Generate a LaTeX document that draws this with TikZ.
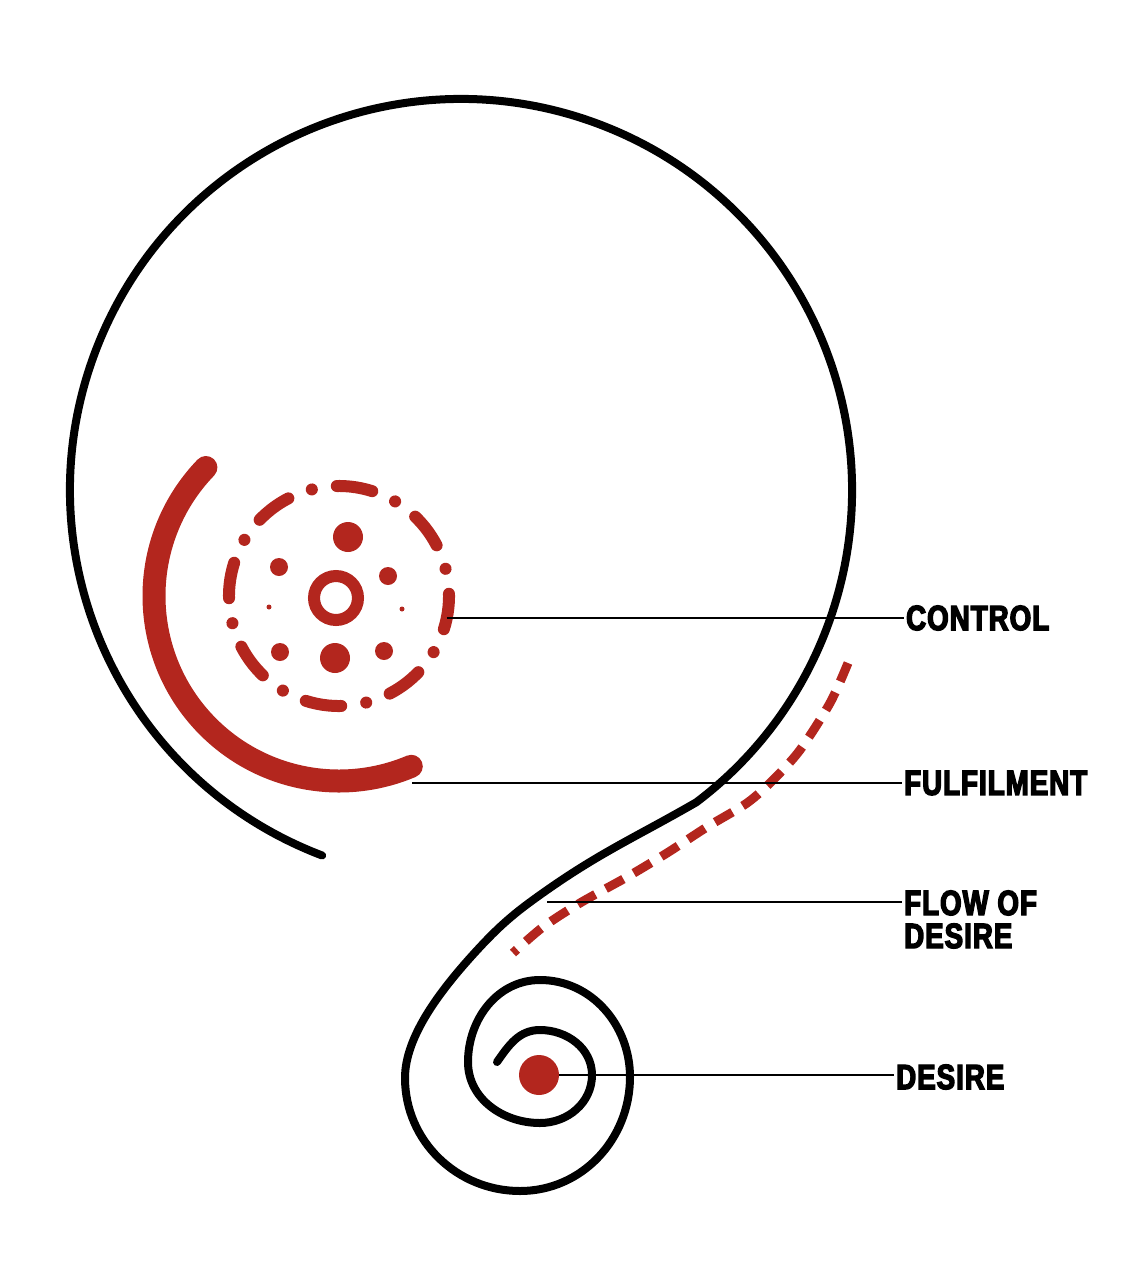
\documentclass[tikz,border=0pt]{standalone}
\usepackage{fontspec}
\newfontfamily\labelfont{Liberation Sans}[FakeStretch=0.79, FakeBold=4, LetterSpace=3]
\usetikzlibrary{positioning}
\definecolor{desirered}{HTML}{B3261E}

\begin{document}
\begin{tikzpicture}[x=1pt, y=1pt,
  lbl/.style={anchor=west, inner sep=2pt, align=left, font=\labelfont\bfseries\fontsize{35}{33}\selectfont},
  leader/.style={line width=1.8pt, color=black},
  curl/.style={line width=8pt, line cap=round, line join=round},
  fulfil arc/.style={draw=desirered, line width=23pt, line cap=round},
  ctrl ring/.style={draw=desirered, line width=12pt, line cap=round, dash pattern=on 36pt off 25.2pt on 0.1pt off 25.1pt},
  flowdash/.style={draw=desirered, line width=9pt, dash pattern=on 20pt off 12pt},
  seed/.style={circle, fill=desirered, minimum size=40pt, inner sep=0pt}]
\useasboundingbox (0,0) rectangle (1123,-1280);
\coordinate (hub) at (339,-596);
\draw[curl] (461,-490) ++(249.2:391) arc[start angle=249.2, end angle=-53, radius=391]
  to[out=210,in=35] (547,-890) to[out=215,in=47] (480,-947) to[out=227,in=90,out looseness=1,in looseness=0.7] (405,-1078)
  to[out=270,in=180] (520,-1191) to[out=0,in=270] (630,-1077) to[out=90,in=0] (540,-980)
  to[out=180,in=90] (468,-1062) to[out=270,in=180] (540,-1123) to[out=0,in=270] (592,-1075)
  to[out=90,in=0] (540,-1030) to[out=180,in=55] (497,-1062);
\draw[fulfil arc] (hub) ++(136:185) arc[start angle=136, end angle=293, radius=185];
\draw[ctrl ring] (hub) ++(72.4:110) arc[start angle=72.4, delta angle=360, radius=110];
\draw[desirered, line width=12pt] (336,-598) circle[radius=22];
\fill[desirered] (348,-537) circle[radius=15] (335,-658) circle[radius=15];
\fill[desirered] (279,-567) circle[radius=9] (388,-576) circle[radius=9] (280,-652) circle[radius=9] (384,-651) circle[radius=9];
\fill[desirered] (269,-607) circle[radius=2.5] (402,-609) circle[radius=2.5];
\draw[flowdash] plot[smooth] coordinates {(848,-663) (830,-703) (800,-750) (773,-780) (747,-803) (707,-827) (667,-853) (627,-877) (580,-903) (543,-927) (513,-953)};
\node[seed] (core) at (539,-1075) {};
\coordinate (ctrl) at (447,-618);
\coordinate (fulf) at (412,-783);
\coordinate (flowpt) at (547,-902);
\node[lbl] (control) at (904,-618) {CONTROL};
\node[lbl] (fulfilment) at (902,-783) {FULFILMENT};
\node[lbl, anchor=base west] (flow) at (902,-948) {FLOW OF\\DESIRE};
\node[lbl] (desire) at (894,-1077) {DESIRE};
\draw[leader] (ctrl) -- (control.west);
\draw[leader] (fulf) -- (fulfilment.west);
\draw[leader] (flowpt) -- (flowpt -| flow.west);
\draw[leader] (core) -- (core -| desire.west);
\end{tikzpicture}
\end{document}
